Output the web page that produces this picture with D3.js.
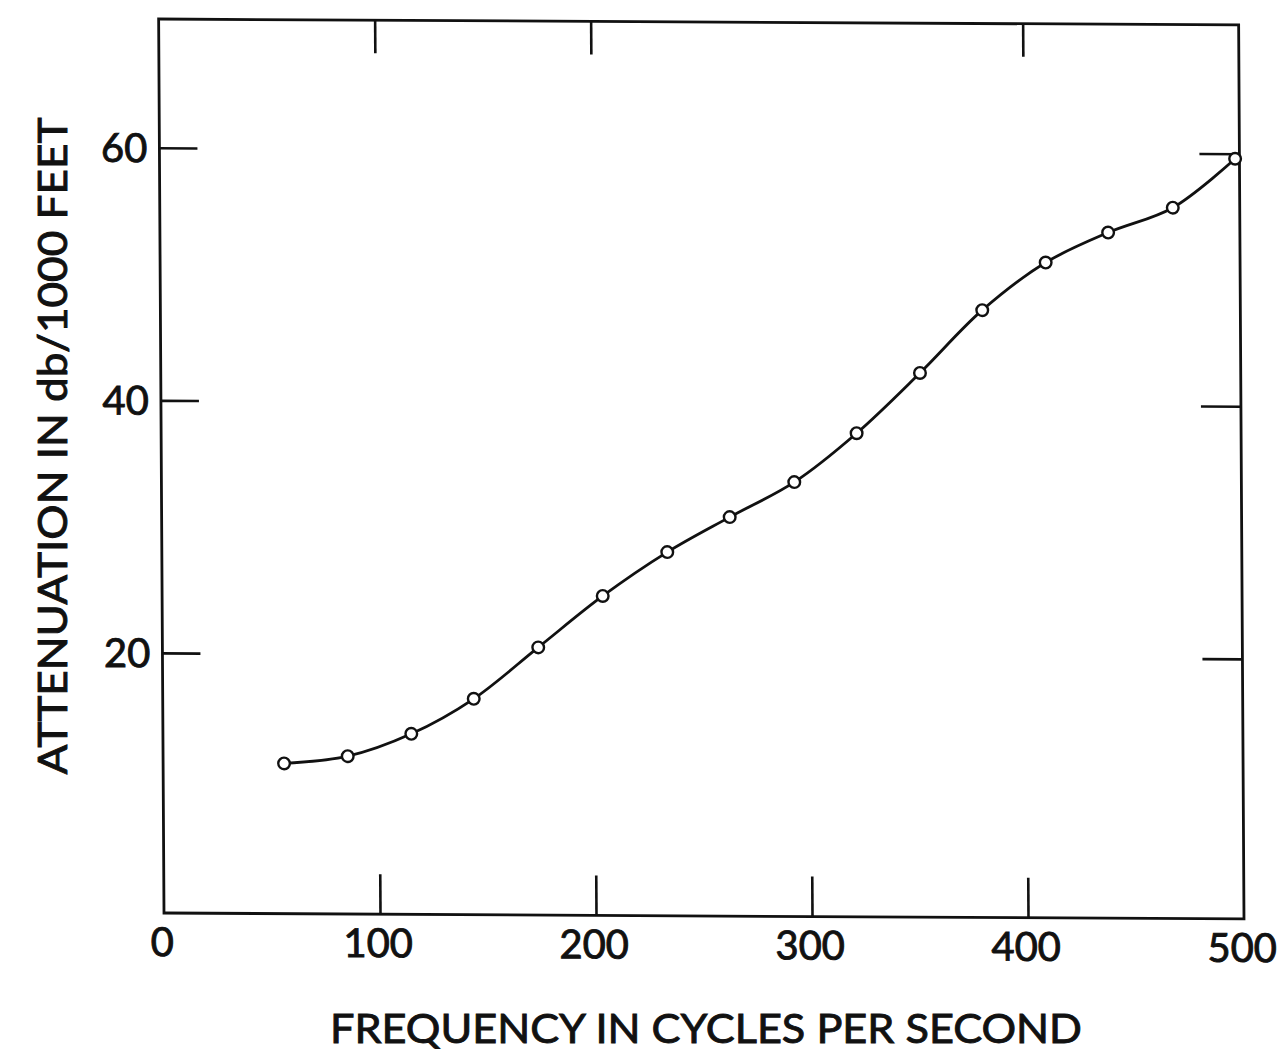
<!DOCTYPE html>
<html><head><meta charset="utf-8">
<script src="https://cdn.jsdelivr.net/npm/d3@7"></script>
<style>body{margin:0;background:#fff}svg{display:block}</style>
</head><body><svg id="c" width="1284" height="1055"></svg>
<script>
const frequency = [56, 85.5, 115, 144, 174, 204, 234, 263, 293, 322, 351.5, 380.5, 410, 439, 469, 498];
const attenuation = [11.3, 11.9, 13.7, 16.5, 20.6, 24.7, 28.2, 31.0, 33.8, 37.7, 42.5, 47.5, 51.3, 53.7, 55.7, 59.6];
const xTickValues = [100, 200, 300, 400];
const xTopTickValues = [100, 200, 400];
const xLabelValues = [0, 100, 200, 300, 400, 500];
const yTickValues = [20, 40, 60];
const xTitle = "FREQUENCY IN CYCLES PER SECOND";
const yTitle = "ATTENUATION IN db/1000 FEET";

const W = 1284, H = 1055;
const FONT = "Lato, 'Noto Sans', sans-serif";
const INK = "#111";
const x = d3.scaleLinear().domain([0, 500]).range([164, 1244]);
const y = d3.scaleLinear().domain([-0.6, 70.2]).range([913, 19]);

const svg = d3.select("#c");
svg.append("rect").attr("width", W).attr("height", H).attr("fill", "#fff");
const g = svg.append("g")
  .attr("transform", `matrix(1,0.0055,0.006,1,${-0.006 * 913},${-0.0055 * 163})`);

const x0 = x(0), x1 = x(500), yb = y(-0.6), yt = y(70.2);

// frame
g.append("rect").attr("x", x0).attr("y", yt).attr("width", x1 - x0).attr("height", yb - yt)
  .attr("fill", "none").attr("stroke", INK).attr("stroke-width", 2.8);

function clean(sel) { sel.select(".domain").remove(); sel.selectAll("line").attr("stroke", INK).attr("stroke-width", 2.6); }

// bottom ticks (inward)
g.append("g").attr("transform", `translate(0,${yb})`)
  .call(d3.axisBottom(x).tickValues(xTickValues).tickSize(-40).tickFormat(""))
  .call(clean);
// top ticks
g.append("g").attr("transform", `translate(0,${yt})`)
  .call(d3.axisTop(x).tickValues(xTopTickValues).tickSize(-33).tickFormat(""))
  .call(clean);
// left ticks
g.append("g").attr("transform", `translate(${x0},0)`)
  .call(d3.axisLeft(y).tickValues(yTickValues).tickSize(-38).tickFormat(""))
  .call(clean);
// right ticks
g.append("g").attr("transform", `translate(${x1},0)`)
  .call(d3.axisRight(y).tickValues(yTickValues).tickSize(-40).tickFormat(""))
  .call(clean);

function textStyle(sel) {
  sel.attr("font-family", FONT).attr("font-size", 40).attr("fill", INK)
    .attr("stroke", INK).attr("stroke-width", 0.9);
}

// x labels
g.append("g").selectAll("text").data(xLabelValues).join("text")
  .attr("x", d => x(d) - 2).attr("y", 956)
  .attr("text-anchor", "middle").call(textStyle).text(d => d);

// y labels
g.append("g").selectAll("text").data(yTickValues).join("text")
  .attr("x", 152).attr("y", d => y(d)).attr("dy", "0.36em")
  .attr("text-anchor", "end").call(textStyle).text(d => d);

// curve
const pts = frequency.map((f, i) => [f, attenuation[i]]);
g.append("path").datum(pts)
  .attr("fill", "none").attr("stroke", INK).attr("stroke-width", 2.8)
  .attr("d", d3.line().x(d => x(d[0])).y(d => y(d[1])).curve(d3.curveCatmullRom.alpha(0.5)));

g.append("g").selectAll("circle").data(pts).join("circle")
  .attr("cx", d => x(d[0])).attr("cy", d => y(d[1])).attr("r", 5.8)
  .attr("fill", "#fff").attr("stroke", INK).attr("stroke-width", 2.4);

// titles
svg.append("text").attr("x", 706).attr("y", 1043)
  .attr("text-anchor", "middle").call(textStyle).attr("font-size", 41)
  .attr("textLength", 752).attr("lengthAdjust", "spacingAndGlyphs")
  .text(xTitle);

svg.append("text").attr("transform", "translate(67,446) rotate(-90)")
  .attr("text-anchor", "middle").call(textStyle).attr("font-size", 41)
  .attr("textLength", 657).attr("lengthAdjust", "spacingAndGlyphs")
  .text(yTitle);
</script></body></html>
